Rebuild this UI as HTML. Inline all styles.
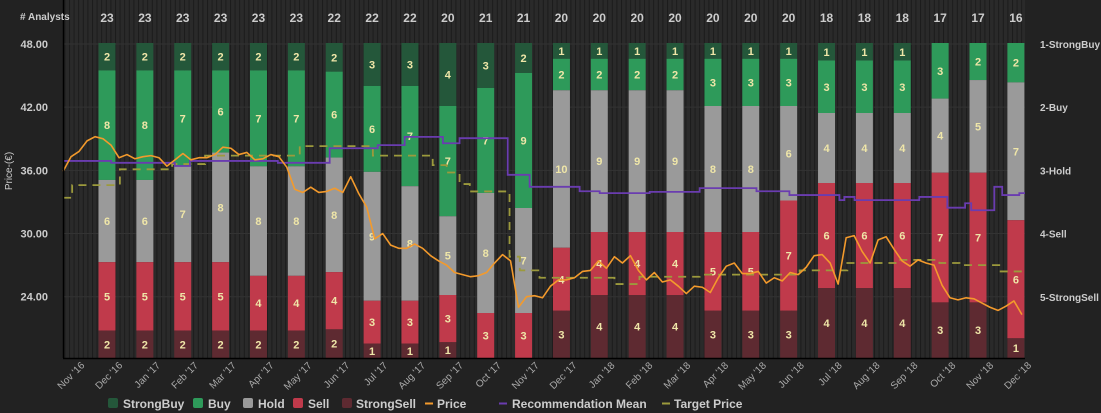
<!DOCTYPE html>
<html><head><meta charset="utf-8">
<style>
html,body{margin:0;padding:0;background:#222;}
svg{display:block;font-family:"Liberation Sans",sans-serif;font-weight:bold;}
</style></head>
<body>
<svg id="chart" width="1101" height="413" viewBox="0 0 1101 413" xmlns="http://www.w3.org/2000/svg">
<defs>
<pattern id="stripes" width="4.6" height="10" patternUnits="userSpaceOnUse">
<rect width="4.6" height="10" fill="#2a2a2a"/><rect width="1" height="10" fill="#1b1b1b"/>
</pattern>
</defs>
<rect width="1101" height="413" fill="#222"/>
<rect x="63" y="0" width="962" height="358" fill="url(#stripes)"/>
<g id="grid"></g>
<g id="bars"></g>
<g id="lines"></g>
<line x1="63.5" y1="0" x2="63.5" y2="358" stroke="#000" stroke-width="1.5"/>
<line x1="63" y1="358.5" x2="1025" y2="358.5" stroke="#000" stroke-width="1.5"/>
<text x="20" y="20" fill="#ccc" font-size="10">&#35; Analysts</text>
<text transform="translate(12,171) rotate(-90)" text-anchor="middle" fill="#ccc" font-size="10" font-weight="normal">Price-(€)</text>
<g id="axes"></g>
<g id="legend">
<rect x="108" y="398" width="10" height="10" rx="2" fill="#24573a"/>
<text x="123" y="408" fill="#ccc" font-size="12">StrongBuy</text>
<rect x="193" y="398" width="10" height="10" rx="2" fill="#2e9a5a"/>
<text x="208" y="408" fill="#ccc" font-size="12">Buy</text>
<rect x="243" y="398" width="10" height="10" rx="2" fill="#9a9a9a"/>
<text x="258" y="408" fill="#ccc" font-size="12">Hold</text>
<rect x="293" y="398" width="10" height="10" rx="2" fill="#c03a4b"/>
<text x="308" y="408" fill="#ccc" font-size="12">Sell</text>
<rect x="342" y="398" width="10" height="10" rx="2" fill="#5e2a31"/>
<text x="356" y="408" fill="#ccc" font-size="12">StrongSell</text>
<line x1="425" y1="403.5" x2="433" y2="403.5" stroke="#f39a2c" stroke-width="2"/>
<text x="437" y="408" fill="#ccc" font-size="12">Price</text>
<line x1="499" y1="403.5" x2="507" y2="403.5" stroke="#6a3cb0" stroke-width="2"/>
<text x="512" y="408" fill="#ccc" font-size="12">Recommendation Mean</text>
<line x1="662" y1="403.5" x2="670" y2="403.5" stroke="#9c9a3c" stroke-width="2"/>
<text x="674" y="408" fill="#ccc" font-size="12">Target Price</text>
</g>
</svg>
<script>
const months = ["Dec '16","Jan '17","Feb '17","Mar '17","Apr '17","May '17","Jun '17","Jul '17","Aug '17","Sep '17","Oct '17","Nov '17","Dec '17","Jan '18","Feb '18","Mar '18","Apr '18","May '18","Jun '18","Jul '18","Aug '18","Sep '18","Oct '18","Nov '18","Dec '18"];
const strongBuy = [2,2,2,2,2,2,2,3,3,4,3,2,1,1,1,1,1,1,1,1,1,1,0,0,0];
const buy       = [8,8,7,6,7,7,6,6,7,7,7,9,2,2,2,2,3,3,3,3,3,3,3,2,2];
const hold      = [6,6,7,8,8,8,8,9,8,5,8,7,10,9,9,9,8,8,6,4,4,4,4,5,7];
const sell      = [5,5,5,5,4,4,4,3,3,3,3,3,4,4,4,4,5,5,7,6,6,6,7,7,6];
const strongSell= [2,2,2,2,2,2,2,1,1,1,0,0,3,4,4,4,3,3,3,4,4,4,3,3,1];
const priceTicks = [48,42,36,30,24];
const ratingTicks = ["1-StrongBuy","2-Buy","3-Hold","4-Sell","5-StrongSell"];
const priceStartMonth = -1.16;
const priceStepMonth = 0.211;
const price = [35.9,37.3,37.8,38.8,39.2,39.0,38.4,37.2,37.5,37.1,37.3,37.4,37.2,36.4,37.0,37.6,37.0,37.2,37.2,37.5,38.2,38.1,37.5,37.7,37.0,37.1,37.5,37.3,36.3,34.2,33.9,34.4,33.9,34.0,34.3,33.9,35.4,33.8,32.5,29.5,30.0,28.9,28.6,28.6,29.0,28.6,27.9,27.4,27.0,26.3,26.1,25.9,26.0,26.3,27.2,28.0,27.4,23.0,24.0,24.1,23.9,25.0,25.6,25.6,25.8,26.4,26.5,27.4,26.7,27.8,27.2,27.9,26.5,25.6,26.3,25.4,25.6,25.0,24.3,25.0,24.9,24.4,25.8,26.9,27.2,26.2,26.2,26.4,25.3,25.8,25.5,26.3,26.1,26.8,27.9,28.0,27.2,25.2,29.6,29.8,28.3,27.2,29.4,29.7,28.5,27.4,26.9,27.5,27.2,27.0,25.1,23.9,23.7,23.9,23.8,23.4,23.0,22.7,23.1,23.6,22.3];
const recMonths = [-1.16,0.11,1.79,2.19,4.51,5.88,7.15,7.86,8.87,9.31,10.58,11.16,12.48,13.01,14.33,15.65,17.15,18.02,19.34,19.47,19.74,21.45,22.19,22.66,22.82,23.43,23.64,24.09];
const recMean   = [2.85,2.88,2.93,2.85,2.88,2.65,2.60,2.47,2.57,2.49,3.07,3.26,3.33,3.36,3.34,3.28,3.33,3.39,3.47,3.42,3.47,3.42,3.59,3.52,3.63,3.26,3.39,3.36];
const tpMonths = [-1.16,-0.92,0.34,1.72,2.59,5.09,7.02,8.6,8.97,9.31,9.58,10.63,10.9,11.42,13.4,14.06,15.65,18.29,19.55,20.92,21.98,22.51,23.56];
const targetPrice = [33.4,34.6,36.1,36.6,37.4,38.3,37.4,36.5,35.8,34.7,34.0,27.8,26.5,25.8,25.2,25.9,26.1,26.5,27.2,27.5,27.2,27.0,26.4];

const NS="http://www.w3.org/2000/svg";
const X0=107, DX=37.87, PLOT_R=1025, BAR_TOP=43, BAR_BOT=358, BW=17;
const xOf = t => X0 + DX*t;
const yPrice = p => 44 + (48-p)*10.53;
const yRating = r => 44 + (r-1)*63.2;
function mk(tag, attrs, parent){const e=document.createElementNS(NS,tag);for(const k in attrs)e.setAttribute(k,attrs[k]);parent.appendChild(e);return e;}

const grid=document.getElementById('grid'), axes=document.getElementById('axes');
priceTicks.forEach((p,i)=>{
  const y=yPrice(p);
  const gl=mk('line',{x1:63,x2:PLOT_R,y1:y,y2:y,stroke:'#333','stroke-width':1},grid);
  
  
  const t=mk('text',{x:48,y:y+4,'text-anchor':'end',fill:'#ccc','font-size':11},axes);
  t.textContent=p.toFixed(2);
  
  
  const r=mk('text',{x:1040,y:yRating(i+1)+4,fill:'#ccc','font-size':10},axes);
  r.textContent=ratingTicks[i];
  
  
});
const xl=["Nov '16"].concat(months);
xl.forEach((m,i)=>{
  const t=i-1, x=xOf(t)+16, y=366;
  const tx=mk('text',{x:x,y:y,'text-anchor':'end',fill:'#aaa','font-size':10,'font-weight':'normal',transform:`rotate(-45 ${x} ${y})`},axes);
  tx.textContent=m;
  
  
});

const bars=document.getElementById('bars');
const series=[[strongBuy,'#24573a','strongbuy'],[buy,'#2e9a5a','buy'],[hold,'#9a9a9a','hold'],[sell,'#c03a4b','sell'],[strongSell,'#5e2a31','strongsell']];
months.forEach((m,i)=>{
  const total=series.reduce((s,a)=>s+a[0][i],0);
  const xc=xOf(i);
  const hd=mk('text',{x:xc,y:22,'text-anchor':'middle',fill:'#ccc','font-size':12},axes);
  hd.textContent=total;
  
  
  let y=BAR_TOP;
  series.forEach(([arr,col,name])=>{
    const v=arr[i]; if(!v) return;
    const h=(BAR_BOT-BAR_TOP)*v/total;
    const r=mk('rect',{x:xc-BW/2,y:y,width:BW,height:h,fill:col},bars);
    
    
    const lbl=mk('text',{x:xc,y:y+h/2+4,'text-anchor':'middle',fill:'#efe6a8','font-size':11},bars);
    lbl.textContent=v;
    
    
    y+=h;
  });
});

const lines=document.getElementById('lines');
function stepPath(ts,vs,yf){let d='';ts.forEach((t,i)=>{const x=xOf(t),y=yf(vs[i]);if(i===0)d+=`M${x},${y}`;else d+=`H${x}V${y}`;});return d+`H${PLOT_R}`;}
const tp=mk('path',{d:stepPath(tpMonths,targetPrice,yPrice),fill:'none',stroke:'#9c9a3c','stroke-width':1.8,'stroke-dasharray':'8,6'},lines);


const rm=mk('path',{d:stepPath(recMonths,recMean,yRating),fill:'none',stroke:'#6a3cb0','stroke-width':1.8},lines);


const pd=price.map((p,i)=>`${i?'L':'M'}${xOf(priceStartMonth+i*priceStepMonth)},${yPrice(p)}`).join('');
const pl=mk('path',{d:pd,fill:'none',stroke:'#f39a2c','stroke-width':1.6,'stroke-linejoin':'round'},lines);


</script>
</body></html>
